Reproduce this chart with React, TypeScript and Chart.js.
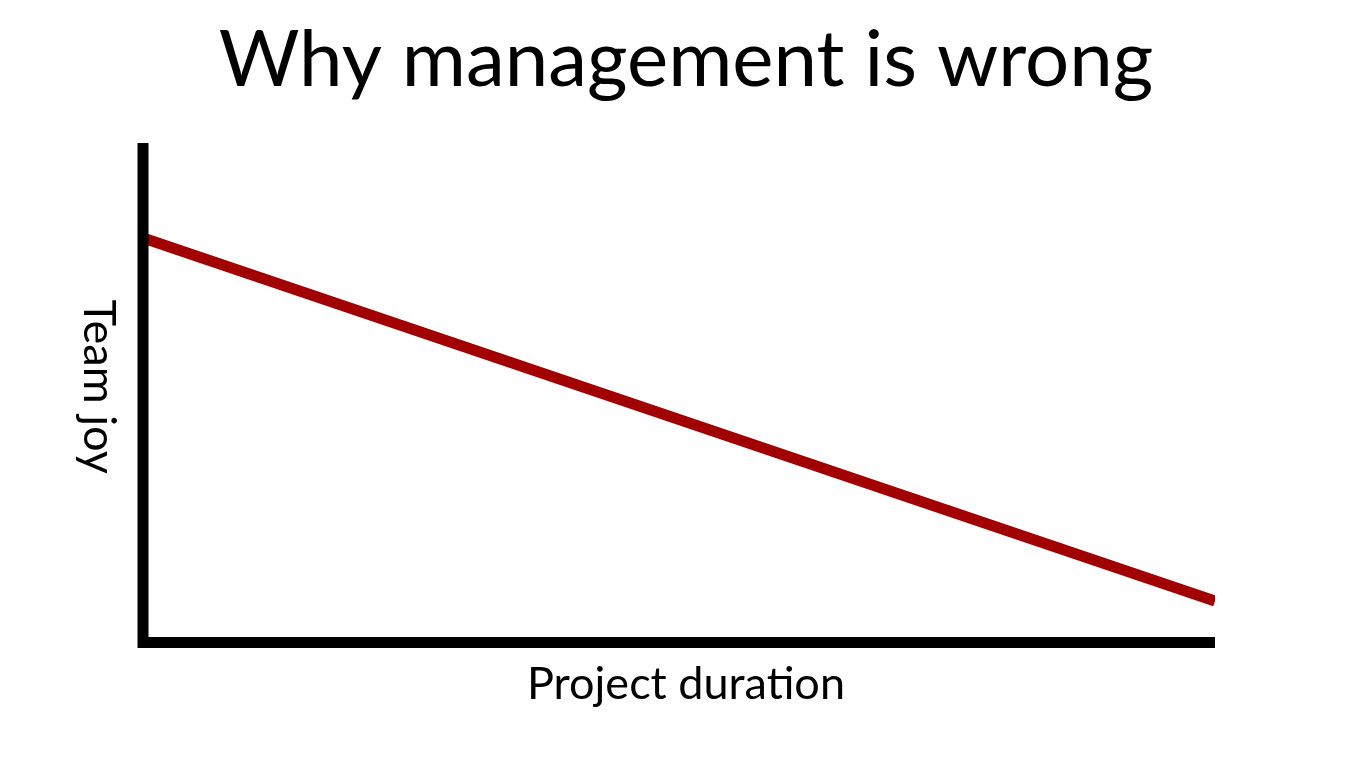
import React, { useEffect, useRef } from "react";
import { Chart, registerables } from "chart.js";

Chart.register(...registerables);

const chartTitle = "Why management is wrong";
const xAxisLabel = "Project duration";
const yAxisLabel = "Team joy";
const durationValues = [0, 10];
const joyValues = [8.1, 0.83];

const FONT = "Lato, 'Noto Sans', sans-serif";

const axesPlugin = {
  id: "sketchAxes",
  afterDatasetsDraw(chart: any) {
    const { ctx, chartArea } = chart;
    const { left, right, top, bottom } = chartArea;
    ctx.save();
    ctx.strokeStyle = "#000";
    ctx.lineWidth = 11;
    ctx.lineJoin = "miter";
    ctx.lineCap = "butt";
    ctx.beginPath();
    ctx.moveTo(left, top);
    ctx.lineTo(left, bottom);
    ctx.lineTo(right, bottom);
    ctx.stroke();

    ctx.fillStyle = "#000";
    ctx.textAlign = "center";
    ctx.textBaseline = "middle";

    ctx.font = `78px ${FONT}`;
    ctx.fillText(chartTitle, chart.width / 2, 60.8);

    ctx.font = `45px ${FONT}`;
    ctx.fillText(xAxisLabel, (left + right) / 2 + 7, bottom + 42);

    ctx.translate(left - 44, (top + bottom) / 2 - 6);
    ctx.rotate(Math.PI / 2);
    ctx.fillText(yAxisLabel, 0, 0);
    ctx.restore();
  },
};

export default function App() {
  const canvasRef = useRef<HTMLCanvasElement | null>(null);

  useEffect(() => {
    if (!canvasRef.current) return;
    const chart = new Chart(canvasRef.current, {
      type: "line",
      data: {
        datasets: [
          {
            data: durationValues.map((x, i) => ({ x, y: joyValues[i] })),
            borderColor: "#a20000",
            borderWidth: 11,
            pointRadius: 0,
            fill: false,
            tension: 0,
          },
        ],
      },
      options: {
        responsive: true,
        maintainAspectRatio: false,
        animation: false,
        layout: { padding: { left: 143, right: 157, top: 143, bottom: 128.5 } },
        plugins: {
          legend: { display: false },
          tooltip: { enabled: false },
          title: { display: false },
        },
        scales: {
          x: { type: "linear", min: 0, max: 10, display: false },
          y: { type: "linear", min: 0, max: 10, display: false },
        },
      },
      plugins: [axesPlugin],
    });
    return () => chart.destroy();
  }, []);

  return (
    <div style={{ position: "fixed", left: 0, top: 0, width: 1372, height: 771, background: "#fff" }}>
      <canvas ref={canvasRef} />
    </div>
  );
}
